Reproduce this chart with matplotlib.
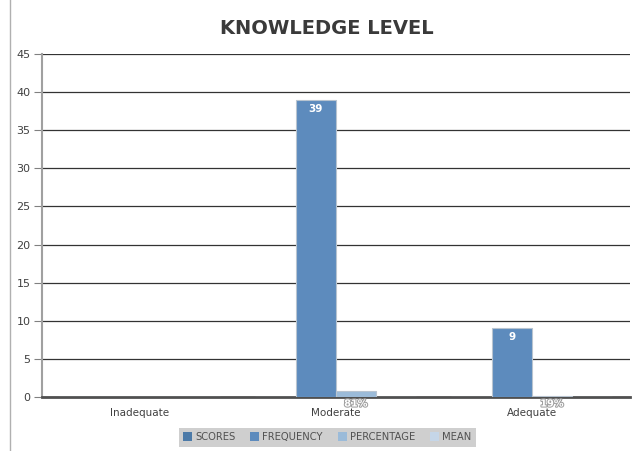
import numpy as np
import matplotlib
matplotlib.use('Agg')
from matplotlib import pyplot as plt
from matplotlib import patheffects as pe
from matplotlib.patches import Patch
from matplotlib.lines import Line2D

# data
categories = ['Inadequate', 'Moderate', 'Adequate']
series_names = ['SCORES', 'FREQUENCY', 'PERCENTAGE', 'MEAN']
scores = [0, 0, 0]
frequency = [0, 39, 9]
percentage = [0, 0.81, 0.19]
mean = [0, 0, 0]
freq_labels = ['', '39', '9']
pct_labels = ['', '81%', '19%']

colors = ['#4c7aa8', '#5d8bbd', '#9bbbd9', '#c5d6e8']

fig = plt.figure(figsize=(6.33, 4.51), dpi=100)
ax = fig.add_axes([0.066, 0.1197, 0.929, 0.7605])

x = np.arange(len(categories))
w = 0.205
all_series = [scores, frequency, percentage, mean]
bars = []
for i, vals in enumerate(all_series):
    b = ax.bar(x + (i - 1.5) * w, vals, w, color=colors[i],
               edgecolor='#b8c4d0', linewidth=0.8, zorder=3)
    bars.append(b)

# value labels
for i, rect in enumerate(bars[1]):
    if freq_labels[i]:
        ax.text(rect.get_x() + rect.get_width() / 2, rect.get_height() - 0.5,
                freq_labels[i], ha='center', va='top', color='white',
                fontsize=7.5, fontweight='bold', zorder=5)
for i, rect in enumerate(bars[2]):
    if pct_labels[i]:
        ax.text(rect.get_x() + rect.get_width() / 2, -0.2,
                pct_labels[i], ha='center', va='top', color='white',
                fontsize=7, fontweight='bold', zorder=5,
                path_effects=[pe.withStroke(linewidth=1.5, foreground='#a0a0a0')])

ax.set_xlim(-0.5, 2.5)
ax.set_ylim(0, 45)
ax.set_yticks(np.arange(0, 46, 5))
ax.set_xticks(x)
ax.set_xticklabels(categories)
ax.tick_params(axis='x', length=0, pad=8, labelsize=7.5, labelcolor='#404040')
ax.tick_params(axis='y', length=6, width=0.8, color='#808080', pad=2,
               labelsize=8, labelcolor='#404040')
ax.yaxis.grid(True, color='#333333', linewidth=0.9, zorder=0)
ax.set_axisbelow(True)
for s in ['top', 'right']:
    ax.spines[s].set_visible(False)
ax.spines['left'].set_color('#a0a0a0')
ax.spines['left'].set_linewidth(1.5)
ax.spines['bottom'].set_color('#505050')
ax.spines['bottom'].set_linewidth(2)

fig.text(0.517, 0.937, 'KNOWLEDGE LEVEL', ha='center', va='center',
         fontsize=14, fontweight='bold', color='#3a3a3a')

handles = [Patch(facecolor=c, edgecolor='none') for c in colors]
leg = fig.legend(handles, series_names, loc='center', bbox_to_anchor=(0.517, 0.031),
                 ncol=4, fontsize=7.2, frameon=True, fancybox=False,
                 handlelength=0.9, handleheight=0.9, handletextpad=0.3,
                 columnspacing=1.5, borderpad=0.45)
leg.get_frame().set_facecolor('#c4c4c4')
leg.get_frame().set_edgecolor('none')
for t in leg.get_texts():
    t.set_color('#505050')

# outer frame line on the left
fig.add_artist(Line2D([0.016, 0.016], [0, 1], color='#b0b0b0', linewidth=1))

fig.savefig('out.png', dpi=100)
